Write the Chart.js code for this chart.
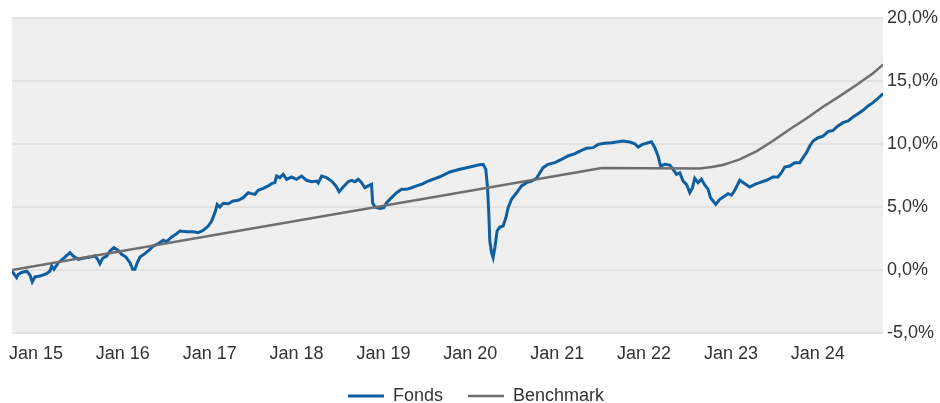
<!DOCTYPE html>
<html>
<head>
<meta charset="utf-8">
<script src="https://cdn.jsdelivr.net/npm/chart.js@4"></script>
<style>
  html, body { margin: 0; padding: 0; background: #fff; overflow: hidden; }
  #wrap { width: 940px; height: 415px; position: relative; }
</style>
</head>
<body>
<div id="wrap"><canvas id="chartCanvas"></canvas></div>
<script>
// Wertentwicklung in %, Zeitachse als Dezimaljahr
const xMin = 2014.724;
const xMax = 2024.75;
const yearTicks = [2015, 2016, 2017, 2018, 2019, 2020, 2021, 2022, 2023, 2024];

const fondsDates = [
  2014.724, 2014.778, 2014.796, 2014.835, 2014.893, 2014.931, 2014.957, 2014.988,
  2015.046, 2015.123, 2015.161, 2015.181, 2015.207, 2015.257, 2015.334, 2015.391,
  2015.429, 2015.487, 2015.544, 2015.621, 2015.679, 2015.710, 2015.736, 2015.768,
  2015.814, 2015.852, 2015.898, 2015.947, 2015.986, 2016.036, 2016.082, 2016.113,
  2016.139, 2016.166, 2016.197, 2016.254, 2016.312, 2016.350, 2016.407, 2016.465,
  2016.504, 2016.562, 2016.619, 2016.657, 2016.734, 2016.810, 2016.868, 2016.925,
  2016.983, 2017.022, 2017.060, 2017.086, 2017.117, 2017.155, 2017.213, 2017.270,
  2017.328, 2017.386, 2017.443, 2017.482, 2017.520, 2017.558, 2017.616, 2017.673,
  2017.712, 2017.750, 2017.770, 2017.808, 2017.846, 2017.885, 2017.942, 2018.000,
  2018.058, 2018.115, 2018.173, 2018.230, 2018.249, 2018.288, 2018.345, 2018.403,
  2018.452, 2018.490, 2018.536, 2018.594, 2018.633, 2018.671, 2018.709, 2018.748,
  2018.786, 2018.824, 2018.863, 2018.875, 2018.901, 2018.959, 2019.005, 2019.036,
  2019.093, 2019.151, 2019.208, 2019.266, 2019.323, 2019.381, 2019.457, 2019.514,
  2019.572, 2019.649, 2019.764, 2019.879, 2019.994, 2020.090, 2020.147, 2020.178,
  2020.198, 2020.213, 2020.224, 2020.244, 2020.262, 2020.282, 2020.308, 2020.339,
  2020.378, 2020.409, 2020.435, 2020.474, 2020.532, 2020.589, 2020.647, 2020.704,
  2020.762, 2020.800, 2020.838, 2020.895, 2020.972, 2021.049, 2021.125, 2021.203,
  2021.280, 2021.337, 2021.413, 2021.471, 2021.548, 2021.625, 2021.701, 2021.758,
  2021.835, 2021.893, 2021.931, 2021.982, 2022.008, 2022.085, 2022.123, 2022.161,
  2022.189, 2022.238, 2022.296, 2022.334, 2022.373, 2022.411, 2022.449, 2022.488,
  2022.526, 2022.557, 2022.583, 2022.621, 2022.660, 2022.698, 2022.737, 2022.764,
  2022.794, 2022.825, 2022.871, 2022.929, 2022.967, 2023.006, 2023.044, 2023.101,
  2023.159, 2023.216, 2023.274, 2023.331, 2023.409, 2023.484, 2023.542, 2023.581,
  2023.619, 2023.677, 2023.734, 2023.792, 2023.830, 2023.869, 2023.907, 2023.945,
  2024.002, 2024.060, 2024.117, 2024.175, 2024.232, 2024.290, 2024.347, 2024.405,
  2024.462, 2024.520, 2024.578, 2024.635, 2024.693, 2024.750
];
const fondsValues = [
  -0.10, -0.60, -0.35, -0.20, -0.10, -0.40, -0.95, -0.55,
  -0.48, -0.29, -0.08, 0.32, 0.05, 0.58, 1.03, 1.38,
  1.11, 0.85, 0.93, 1.03, 1.11, 0.85, 0.50, 0.93,
  1.11, 1.51, 1.77, 1.56, 1.24, 1.03, 0.58, 0.05,
  0.05, 0.58, 1.03, 1.30, 1.64, 1.90, 2.09, 2.36,
  2.25, 2.62, 2.88, 3.10, 3.04, 3.04, 2.96, 3.15,
  3.49, 3.89, 4.55, 5.21, 5.00, 5.30, 5.26, 5.48,
  5.53, 5.74, 6.13, 6.06, 6.00, 6.33, 6.48, 6.67,
  6.85, 6.93, 7.46, 7.33, 7.59, 7.20, 7.38, 7.20,
  7.46, 7.12, 7.01, 7.06, 6.90, 7.46, 7.33, 7.06,
  6.67, 6.21, 6.59, 7.01, 7.12, 7.01, 7.20, 6.93,
  6.53, 6.67, 6.80, 5.34, 5.00, 4.89, 4.94, 5.34,
  5.74, 6.13, 6.40, 6.40, 6.53, 6.67, 6.85, 7.06,
  7.20, 7.40, 7.78, 7.99, 8.17, 8.33, 8.39, 7.99,
  6.53, 4.42, 2.30, 1.38, 0.98, 1.77, 3.10, 3.41,
  3.49, 4.15, 4.94, 5.61, 6.13, 6.67, 6.93, 7.06,
  7.28, 7.72, 8.12, 8.39, 8.52, 8.78, 9.05, 9.23,
  9.50, 9.66, 9.71, 9.97, 10.06, 10.10, 10.18, 10.24,
  10.16, 10.02, 9.76, 9.97, 10.02, 10.18, 9.71, 9.05,
  8.25, 8.39, 8.33, 7.99, 7.59, 7.72, 7.06, 6.80,
  6.13, 6.53, 7.28, 6.93, 7.20, 6.75, 6.40, 5.74,
  5.48, 5.21, 5.61, 5.87, 6.06, 5.95, 6.33, 7.12,
  6.85, 6.59, 6.80, 6.93, 7.12, 7.38, 7.38, 7.72,
  8.17, 8.25, 8.52, 8.52, 8.92, 9.31, 9.84, 10.24,
  10.50, 10.63, 10.98, 11.08, 11.43, 11.69, 11.83, 12.14,
  12.40, 12.67, 13.02, 13.28, 13.63, 14.00
];

const benchDates = [
  2014.724, 2021.513, 2022.066, 2022.641, 2022.780, 2022.906, 2022.990, 2023.101,
  2023.297, 2023.481, 2023.677, 2023.872, 2024.056, 2024.252, 2024.448, 2024.632,
  2024.750
];
const benchValues = [
  0.0, 8.1, 8.08, 8.05, 8.17, 8.33, 8.52, 8.78,
  9.44, 10.24, 11.17, 12.04, 12.94, 13.8, 14.7, 15.6,
  16.3
];

const fontFamily = "'Liberation Sans', Arial, sans-serif";
const textColor = "#333";

function toPoints(dates, values) {
  return dates.map((d, i) => ({ x: d, y: values[i] }));
}

// grauer Hintergrund nur im Plotbereich
const plotBackground = {
  id: "plotBackground",
  beforeDraw(chart) {
    const { ctx, chartArea } = chart;
    ctx.save();
    ctx.fillStyle = "#efefef";
    ctx.fillRect(chartArea.left, chartArea.top, chartArea.right - chartArea.left, chartArea.bottom - chartArea.top);
    ctx.restore();
  }
};

const ctx = document.getElementById("chartCanvas").getContext("2d");
const chart = new Chart(ctx, {
  type: "line",
  data: {
    datasets: [
      {
        label: "Fonds",
        data: toPoints(fondsDates, fondsValues),
        borderColor: "#0f5fa0",
        backgroundColor: "#0f5fa0",
        borderWidth: 3,
        pointRadius: 0,
        tension: 0,
        order: 1
      },
      {
        label: "Benchmark",
        data: toPoints(benchDates, benchValues),
        borderColor: "#6e6e71",
        backgroundColor: "#6e6e71",
        borderWidth: 2.5,
        pointRadius: 0,
        tension: 0,
        order: 0
      }
    ]
  },
  options: {
    responsive: true,
    maintainAspectRatio: false,
    animation: false,
    layout: {
      padding: { left: 12, right: 0, top: 18, bottom: 0 }
    },
    scales: {
      x: {
        type: "linear",
        min: xMin,
        max: xMax,
        grid: { display: false },
        border: { display: false },
        afterBuildTicks: (scale) => {
          scale.ticks = yearTicks.map(v => ({ value: v }));
        },
        afterFit: (scale) => { scale.height = 29; },
        ticks: {
          autoSkip: false,
          maxRotation: 0,
          padding: 2,
          color: textColor,
          font: { family: fontFamily, size: 18 },
          callback: (v) => "Jan " + String(v).slice(2)
        }
      },
      y: {
        position: "right",
        min: -5,
        max: 20,
        grid: { color: "#e2e2e2", lineWidth: 2, drawTicks: false },
        border: { display: false },
        afterFit: (scale) => { scale.width = 57; },
        ticks: {
          stepSize: 5,
          padding: 4,
          color: textColor,
          font: { family: fontFamily, size: 18 },
          callback: (v) => v.toFixed(1).replace(".", ",") + "%"
        }
      }
    },
    plugins: {
      legend: {
        position: "bottom",
        labels: {
          usePointStyle: true,
          pointStyle: "line",
          pointStyleWidth: 36,
          padding: 25,
          color: textColor,
          font: { family: fontFamily, size: 18 },
          sort: (a, b) => a.datasetIndex - b.datasetIndex
        }
      },
      tooltip: { enabled: false }
    }
  },
  plugins: [plotBackground]
});
</script>
</body>
</html>
